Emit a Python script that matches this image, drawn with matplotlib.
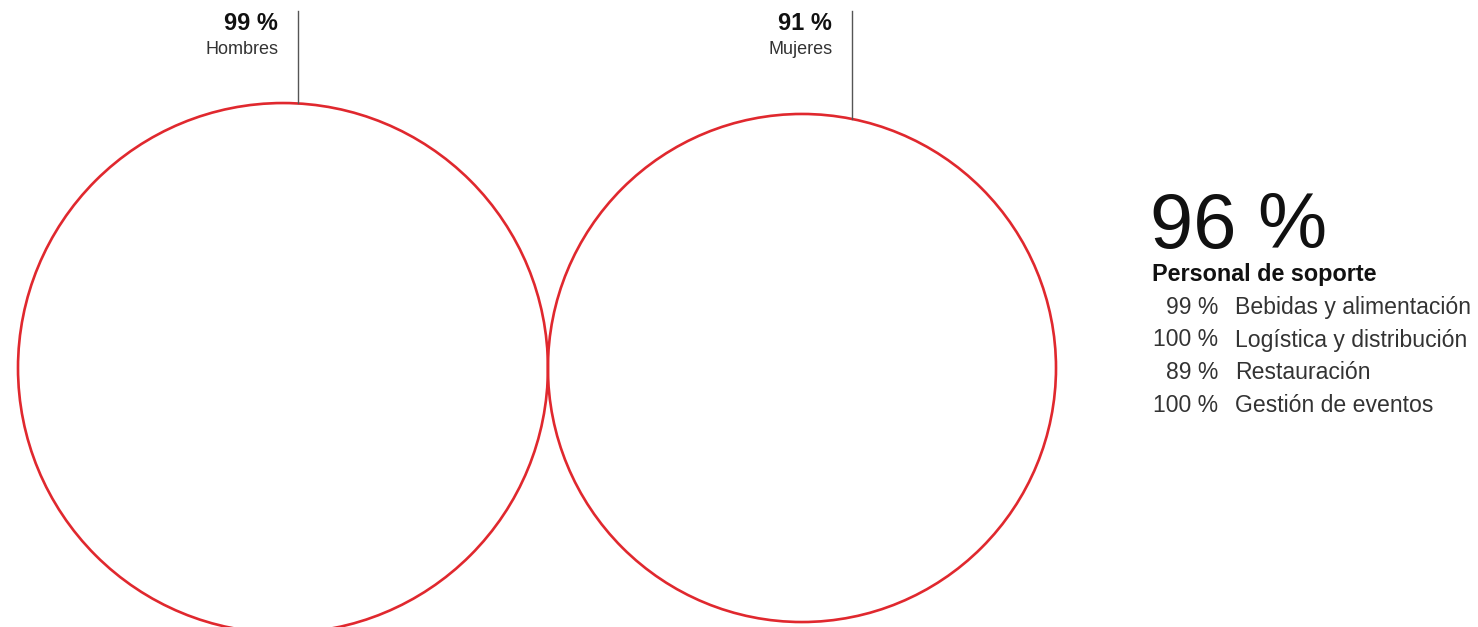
import numpy as np
import matplotlib
matplotlib.use("Agg")
import matplotlib.pyplot as plt
from matplotlib.patches import Circle

# ---- data ----
groups = ["Hombres", "Mujeres"]
group_values = [99, 91]
total_value = 96
total_label = "Personal de soporte"
sector_names = ["Bebidas y alimentación", "Logística y distribución", "Restauración", "Gestión de eventos"]
sector_values = [99, 100, 89, 100]

# ---- layout ----
W, H = 1478, 627
fig = plt.figure(figsize=(W / 100, H / 100), dpi=100)
ax = fig.add_axes([0, 0, 1, 1])
ax.set_xlim(0, W)
ax.set_ylim(H, 0)
ax.set_aspect("equal")
ax.axis("off")

RED = "#E0282E"
R_MAX = 266.3
cy = 368
x0 = 18
radii = [R_MAX * np.sqrt(v / 100) for v in group_values]
line_dx = [15, 50]

x = x0
for name, v, r, dx in zip(groups, group_values, radii, line_dx):
    cx = x + r
    ax.add_patch(Circle((cx, cy), r, fill=False, edgecolor=RED, lw=1.9))
    lx = cx + dx
    ytop = cy - np.sqrt(r**2 - dx**2)
    ax.plot([lx, lx], [11, ytop], color="#555555", lw=1.0)
    ax.text(lx - 20, 30.5, f"{v} %", ha="right", va="baseline", fontsize=17,
            fontweight="bold", family="Liberation Sans", color="#111111")
    ax.text(lx - 19, 54, name, ha="right", va="baseline", fontsize=13,
            family="Liberation Sans", color="#333333")
    x = cx + r

# right panel
tx = 1150
ax.text(tx, 248, f"{total_value} %", ha="left", va="baseline", fontsize=56,
        family="Liberation Sans", color="#111111")
ax.text(tx + 2, 281, total_label, ha="left", va="baseline", fontsize=16.8,
        fontweight="bold", family="Liberation Sans", color="#111111")
for i, (nm, v) in enumerate(zip(sector_names, sector_values)):
    yb = 314 + i * 32.5
    ax.text(1218, yb, f"{v} %", ha="right", va="baseline", fontsize=16.5,
            family="Liberation Sans", color="#333333")
    ax.text(1235, yb, nm, ha="left", va="baseline", fontsize=16.6,
            family="Liberation Sans", color="#333333")

fig.savefig("out.png", dpi=100, facecolor="white")
